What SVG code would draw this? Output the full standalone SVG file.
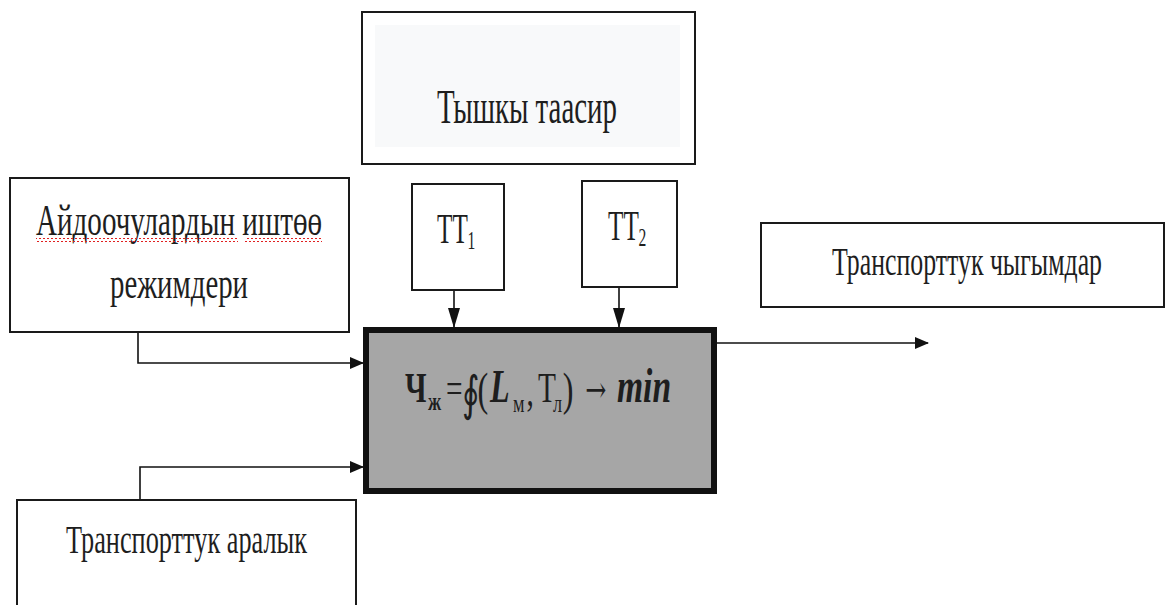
<svg xmlns="http://www.w3.org/2000/svg" width="1167" height="605" viewBox="0 0 1167 605">
<style>
.box{fill:#fff;stroke:#1a1a1a;stroke-width:2}
.lbl{font-family:"Liberation Serif","Times New Roman",serif;fill:#1e1e1e}
.ln{fill:none;stroke:#111;stroke-width:1.6}
</style>
<defs>
<marker id="ah" markerWidth="14" markerHeight="12" refX="13" refY="6" orient="auto" markerUnits="userSpaceOnUse">
<path d="M0,0 L14,6 L0,12 Z" fill="#111"/>
</marker>
<marker id="ahd" markerWidth="20" markerHeight="12" refX="19" refY="6" orient="auto" markerUnits="userSpaceOnUse">
<path d="M0,0 L20,6 L0,12 Z" fill="#111"/>
</marker>
<pattern id="sq" width="4" height="4" patternUnits="userSpaceOnUse">
<path d="M0,3 L2,1 L4,3" fill="none" stroke="#e02020" stroke-width="1"/>
</pattern>
</defs>
<rect width="1167" height="605" fill="#fff"/>

<g id="connectors">
<path class="ln" d="M138,332 V363 H363" marker-end="url(#ah)"/>
<path class="ln" d="M140,500 V467 H363" marker-end="url(#ah)"/>
<path class="ln" d="M454,290 V327" marker-end="url(#ahd)"/>
<path class="ln" d="M619,287 V327" marker-end="url(#ahd)"/>
<path class="ln" d="M717,343 H928" marker-end="url(#ah)"/>
</g>

<g id="external">
<rect class="box" x="362" y="12" width="333" height="152"/>
<rect x="375" y="25" width="305" height="122" fill="#f8f9fa"/>
<text class="lbl" x="437" y="123" font-size="48" textLength="180" lengthAdjust="spacingAndGlyphs">Тышкы таасир</text>
</g>

<g id="drivers">
<rect class="box" x="10" y="178" width="339" height="154"/>
<text class="lbl" x="36" y="235" font-size="45" textLength="286" lengthAdjust="spacingAndGlyphs">Айдоочулардын иштөө</text>
<rect x="36" y="238" width="202" height="4" fill="url(#sq)"/>
<rect x="245" y="238" width="77" height="4" fill="url(#sq)"/>
<text class="lbl" x="110" y="298" font-size="45" textLength="138" lengthAdjust="spacingAndGlyphs">режимдери</text>
</g>

<g id="tt1">
<rect class="box" x="412" y="184" width="92" height="106"/>
<text class="lbl" transform="translate(437,243) scale(0.6,1)" font-size="42"><tspan x="0" y="0">TT</tspan><tspan x="51" y="6" font-size="26">1</tspan></text>
</g>

<g id="tt2">
<rect class="box" x="582" y="181" width="95" height="106"/>
<text class="lbl" transform="translate(608,240) scale(0.6,1)" font-size="42"><tspan x="0" y="0">TT</tspan><tspan x="51" y="6" font-size="26">2</tspan></text>
</g>

<g id="outputs">
<rect class="box" x="761" y="223" width="403" height="84"/>
<text class="lbl" x="832" y="275" font-size="41" textLength="270" lengthAdjust="spacingAndGlyphs">Транспорттук чыгымдар</text>
</g>

<g id="distance">
<rect class="box" x="17" y="500" width="339" height="120"/>
<text class="lbl" x="66" y="553" font-size="40" textLength="241" lengthAdjust="spacingAndGlyphs">Транспорттук аралык</text>
</g>

<g id="model">
<rect x="366" y="330" width="348" height="161" fill="#a6a6a6" stroke="#111" stroke-width="6"/>
<text class="lbl" transform="scale(0.7,1)" font-size="42" fill="#111"><tspan x="578.6" y="402" font-weight="bold">Ч</tspan><tspan x="611.4" y="410" font-size="26" font-weight="bold">ж</tspan><tspan x="637" y="402">=</tspan><tspan x="660" y="410" font-size="48" font-family="DejaVu Serif,serif">∮</tspan><tspan x="682" y="405" font-size="46">(</tspan><tspan x="700" y="402" font-size="46" font-weight="bold" font-style="italic">L</tspan><tspan x="733" y="412" font-size="26">м</tspan><tspan x="752" y="405">,</tspan><tspan x="768.6" y="402">Т</tspan><tspan x="790" y="412" font-size="26">л</tspan><tspan x="804" y="405" font-size="46">)</tspan><tspan x="836" y="402" font-size="36" font-family="DejaVu Serif,serif">→</tspan><tspan x="881.4" y="402" font-size="48" font-weight="bold" font-style="italic">min</tspan></text>
</g>
</svg>
